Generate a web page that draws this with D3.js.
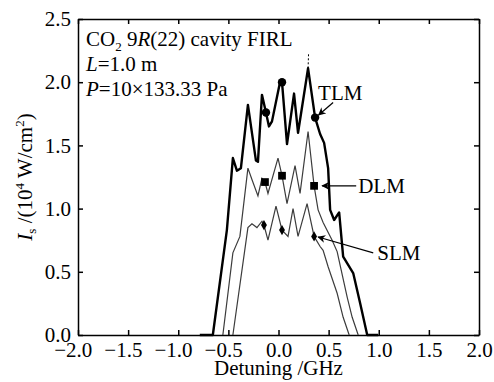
<!DOCTYPE html>
<html>
<head>
<meta charset="utf-8">
<script src="https://cdn.jsdelivr.net/npm/d3@7/dist/d3.min.js"></script>
</head>
<body style="margin:0;background:#fff">
<svg id="chart"></svg>
<script>
// detuning (GHz), intensity (10^4 W/cm^2)
const tlmPoints = [
  [-0.785, 0], [-0.655, 0], [-0.515, 0.83], [-0.455, 1.40], [-0.415, 1.30],
  [-0.375, 1.32], [-0.305, 1.82], [-0.225, 1.38], [-0.205, 1.37], [-0.165, 1.90],
  [-0.125, 1.76], [-0.095, 1.65], [-0.065, 1.69], [0.015, 2.00], [0.035, 2.00],
  [0.085, 1.51], [0.155, 1.91], [0.195, 1.60], [0.295, 2.11], [0.365, 1.72],
  [0.415, 1.59], [0.455, 1.52], [0.495, 1.32], [0.515, 0.99], [0.555, 0.91],
  [0.605, 0.97], [0.645, 0.62], [0.745, 0.49], [0.815, 0.25], [0.885, 0],
  [0.995, 0]
];
// the dashed tip above the tallest TLM peak
const tlmTip = [[0.295, 2.11], [0.30, 2.23]];

const dlmPoints = [
  [-0.555, 0], [-0.455, 0.65], [-0.385, 0.78], [-0.305, 1.32], [-0.265, 1.23],
  [-0.205, 1.10], [-0.165, 1.24], [-0.135, 1.21], [-0.105, 1.12], [-0.005, 1.40],
  [0.035, 1.26], [0.085, 1.04], [0.165, 1.34], [0.215, 1.12], [0.295, 1.61],
  [0.355, 1.18], [0.395, 0.99], [0.445, 0.89], [0.535, 0.75], [0.585, 0.66],
  [0.615, 0.55], [0.685, 0.30], [0.735, 0.14], [0.795, 0]
];

const slmPoints = [
  [-0.455, 0], [-0.305, 0.85], [-0.265, 0.88], [-0.215, 0.85], [-0.165, 0.90],
  [-0.145, 0.87], [-0.105, 0.75], [-0.025, 1.02], [0.035, 0.83], [0.095, 0.78],
  [0.145, 1.00], [0.195, 0.78], [0.285, 1.04], [0.355, 0.78], [0.415, 0.70],
  [0.445, 0.67], [0.495, 0.54], [0.585, 0.33], [0.645, 0.14], [0.705, 0]
];

const tlmMarkers = [[-0.125, 1.76], [0.035, 2.00], [0.365, 1.72]];
const dlmMarkers = [[-0.135, 1.21], [0.035, 1.26], [0.355, 1.18]];
const slmMarkers = [[-0.145, 0.87], [0.035, 0.83], [0.355, 0.78]];

const xTicks = [-2, -1.5, -1, -0.5, 0, 0.5, 1, 1.5, 2];
const yTicks = [0, 0.5, 1, 1.5, 2, 2.5];

const FONT = '"Liberation Serif", "Times New Roman", serif';

const config = {
  containerWidth: 494,
  containerHeight: 382,
  margin: { top: 19, right: 15, bottom: 47, left: 78 }
};

const width = config.containerWidth - config.margin.left - config.margin.right;
const height = config.containerHeight - config.margin.top - config.margin.bottom;

const svg = d3.select("#chart")
  .attr("width", config.containerWidth)
  .attr("height", config.containerHeight)
  .style("display", "block")
  .style("font-family", FONT)
  .style("font-size", "21px");

// arrow head used by the curve labels
svg.append("defs").append("marker")
  .attr("id", "arrow")
  .attr("viewBox", "0 0 10 10")
  .attr("refX", 9)
  .attr("refY", 5)
  .attr("markerWidth", 8)
  .attr("markerHeight", 8)
  .attr("markerUnits", "userSpaceOnUse")
  .attr("orient", "auto")
  .append("path")
  .attr("d", "M0,0 L10,5 L0,10 L3,5 Z")
  .attr("fill", "#000");

const chart = svg.append("g")
  .attr("transform", `translate(${config.margin.left},${config.margin.top})`);

const xScale = d3.scaleLinear().domain([-2, 2]).range([0, width]);
const yScale = d3.scaleLinear().domain([0, 2.5]).range([height, 0]);
const fmt = d3.format(".1f");

// restyle what d3.axis draws (it sets its own sans-serif 10px)
function styleAxis(g) {
  g.attr("font-family", null).attr("font-size", null);
  g.selectAll("path, line").attr("stroke", "#000").attr("stroke-width", 1.5);
  g.selectAll("text")
    .style("font-family", FONT)
    .style("font-size", "21px")
    .attr("fill", "#000");
}

// axes, ticks pointing inwards on all four sides
const xAxisG = chart.append("g")
  .attr("class", "axis x-axis")
  .attr("transform", `translate(0,${height})`)
  .call(d3.axisBottom(xScale).tickValues(xTicks).tickFormat(fmt)
    .tickSize(-5).tickSizeOuter(0).tickPadding(7))
  .call(styleAxis);
xAxisG.selectAll("text").attr("dx", d => d < 0 ? "-0.25em" : 0);

chart.append("g")
  .attr("class", "axis")
  .call(d3.axisTop(xScale).tickValues(xTicks).tickFormat("")
    .tickSize(-5).tickSizeOuter(0))
  .call(styleAxis);

chart.append("g")
  .attr("class", "axis y-axis")
  .call(d3.axisLeft(yScale).tickValues(yTicks).tickFormat(fmt)
    .tickSize(-5).tickSizeOuter(0).tickPadding(7))
  .call(styleAxis);

chart.append("g")
  .attr("class", "axis")
  .attr("transform", `translate(${width},0)`)
  .call(d3.axisRight(yScale).tickValues(yTicks).tickFormat("")
    .tickSize(-5).tickSizeOuter(0))
  .call(styleAxis);

// curves
const line = d3.line()
  .x(d => xScale(d[0]))
  .y(d => yScale(d[1]));

chart.append("path")
  .datum(slmPoints)
  .attr("fill", "none")
  .attr("stroke", "#3c3c3c")
  .attr("stroke-width", 1.2)
  .attr("d", line);

chart.append("path")
  .datum(dlmPoints)
  .attr("fill", "none")
  .attr("stroke", "#3c3c3c")
  .attr("stroke-width", 1.2)
  .attr("d", line);

chart.append("path")
  .datum(tlmPoints)
  .attr("fill", "none")
  .attr("stroke", "#000")
  .attr("stroke-width", 2.4)
  .attr("stroke-linejoin", "round")
  .attr("d", line);

chart.append("path")
  .datum(tlmTip)
  .attr("fill", "none")
  .attr("stroke", "#000")
  .attr("stroke-width", 1)
  .attr("stroke-dasharray", "2,2")
  .attr("d", line);

// point markers
chart.selectAll(".tlm-marker")
  .data(tlmMarkers)
  .join("circle")
  .attr("class", "tlm-marker")
  .attr("cx", d => xScale(d[0]))
  .attr("cy", d => yScale(d[1]))
  .attr("r", 4.2)
  .attr("fill", "#000");

chart.selectAll(".dlm-marker")
  .data(dlmMarkers)
  .join("path")
  .attr("class", "dlm-marker")
  .attr("transform", d => `translate(${xScale(d[0])},${yScale(d[1])})`)
  .attr("d", d3.symbol(d3.symbolSquare, 60))
  .attr("fill", "#000");

chart.selectAll(".slm-marker")
  .data(slmMarkers)
  .join("path")
  .attr("class", "slm-marker")
  .attr("transform", d => `translate(${xScale(d[0])},${yScale(d[1])})`)
  .attr("d", d3.symbol(d3.symbolDiamond, 30))
  .attr("fill", "#000");

// curve labels with arrows
const labels = [
  { text: "TLM", x: 0.395, y: 1.86, from: [0.545, 1.84], to: [0.40, 1.74] },
  { text: "DLM", x: 0.795, y: 1.12, from: [0.775, 1.18], to: [0.435, 1.18] },
  { text: "SLM", x: 0.985, y: 0.59, from: [0.945, 0.65], to: [0.395, 0.775] }
];

chart.selectAll(".curve-label")
  .data(labels)
  .join("text")
  .attr("class", "curve-label")
  .attr("x", d => xScale(d.x))
  .attr("y", d => yScale(d.y))
  .text(d => d.text);

chart.selectAll(".curve-arrow")
  .data(labels)
  .join("line")
  .attr("class", "curve-arrow")
  .attr("x1", d => xScale(d.from[0]))
  .attr("y1", d => yScale(d.from[1]))
  .attr("x2", d => xScale(d.to[0]))
  .attr("y2", d => yScale(d.to[1]))
  .attr("stroke", "#000")
  .attr("stroke-width", 1.2)
  .attr("marker-end", "url(#arrow)");

// conditions text block, top left
const info = chart.append("g").attr("transform", "translate(8,0)");

const line1 = info.append("text").attr("y", 27);
line1.append("tspan").text("CO");
line1.append("tspan").style("font-size", "13px").attr("dy", 5).text("2");
line1.append("tspan").attr("dy", -5).text(" 9");
line1.append("tspan").style("font-style", "italic").text("R");
line1.append("tspan").text("(22) cavity FIRL");

const line2 = info.append("text").attr("y", 52);
line2.append("tspan").style("font-style", "italic").text("L");
line2.append("tspan").text("=1.0 m");

const line3 = info.append("text").attr("y", 77);
line3.append("tspan").style("font-style", "italic").text("P");
line3.append("tspan").text("=10×133.33 Pa");

// axis titles
svg.append("text")
  .attr("x", config.margin.left + width / 2)
  .attr("y", 375)
  .attr("text-anchor", "middle")
  .text("Detuning /GHz");

const yTitle = svg.append("text")
  .attr("transform", `translate(32,${config.margin.top + height / 2}) rotate(-90)`)
  .attr("text-anchor", "middle");
yTitle.append("tspan").style("font-style", "italic").text("I");
yTitle.append("tspan").style("font-size", "13px").attr("dy", 4).text("s");
yTitle.append("tspan").attr("dy", -4).text(" /(10");
yTitle.append("tspan").style("font-size", "13px").attr("dy", -8).text("4");
yTitle.append("tspan").attr("dy", 8).text(" W/cm");
yTitle.append("tspan").style("font-size", "13px").attr("dy", -8).text("2");
yTitle.append("tspan").attr("dy", 8).text(")");
</script>
</body>
</html>
